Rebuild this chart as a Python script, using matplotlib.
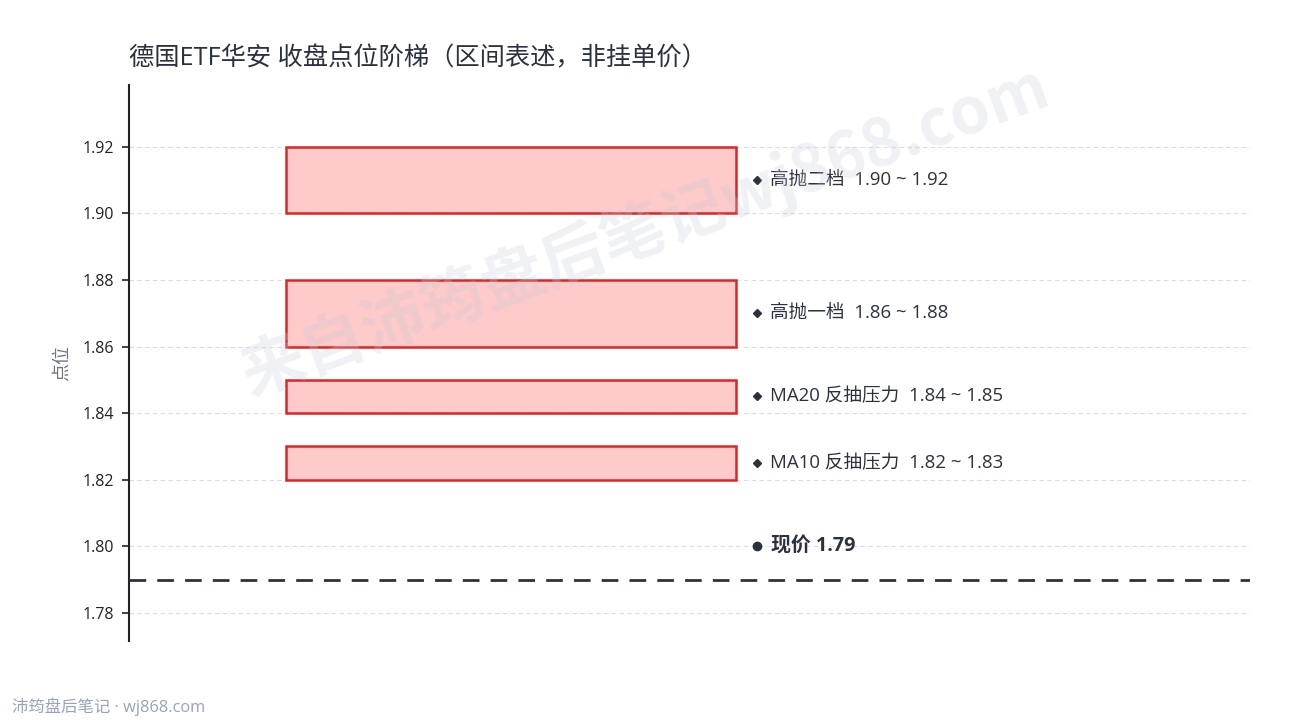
import matplotlib
matplotlib.use("Agg")
import matplotlib.pyplot as plt
from matplotlib.patches import Rectangle

plt.rcParams['font.family'] = ['Open Sans', 'Noto Sans CJK SC', 'DejaVu Sans']

# ---- data ----
title = "德国ETF华安 收盘点位阶梯（区间表述，非挂单价）"
level_names = ["高抛二档", "高抛一档", "MA20 反抽压力", "MA10 反抽压力"]
level_lows = [1.90, 1.86, 1.84, 1.82]
level_highs = [1.92, 1.88, 1.85, 1.83]
current_price = 1.79
y_ticks = [1.78, 1.80, 1.82, 1.84, 1.86, 1.88, 1.90, 1.92]
y_label = "点位"
footer = "沛筠盘后笔记 · wj868.com"
watermark = "来自沛筠盘后笔记wj868.com"

# ---- styles ----
DARK = "#2b3140"
BOX_FACE = "#fecaca"
BOX_EDGE = "#dc2626"
CJK = ['Noto Sans CJK SC', 'DejaVu Sans']

fig = plt.figure(figsize=(12.9, 7.2), dpi=100)
ax = fig.add_axes([0.1, 0.110, 0.869, 0.772])

ax.set_xlim(0, 1)
ax.set_ylim(1.7716, 1.9386)

box_x0, box_x1 = 0.14, 0.5415
for name, lo, hi in zip(level_names, level_lows, level_highs):
    ax.add_patch(Rectangle((box_x0, lo), box_x1 - box_x0, hi - lo,
                           facecolor=BOX_FACE, edgecolor=BOX_EDGE, lw=1.8, zorder=3))
    ymid = (lo + hi) / 2
    ax.plot([0.5605], [ymid], marker='D', markersize=4, color=DARK, zorder=4, clip_on=False)
    ax.text(0.5715, ymid, f"{name}  {lo:.2f} ~ {hi:.2f}", fontsize=13.4, color=DARK,
            va='center', ha='left', zorder=4)

# current price line
ax.axhline(current_price, color=DARK, lw=2, ls=(0, (6, 4)), zorder=4)
ax.plot([0.5605], [current_price + 0.01], marker='o', markersize=6, color=DARK, zorder=4)
ax.text(0.5725, current_price + 0.0005 + 0.01 - 0.0005, f"现价 {current_price:.2f}", fontsize=14.3,
        fontweight='bold', color=DARK, va='center', ha='left', zorder=4)

ax.set_yticks(y_ticks)
ax.set_yticklabels([f"{t:.2f}" for t in y_ticks], fontsize=11.5, color="#222222")
ax.set_xticks([])
ax.yaxis.grid(True, color="#dddddd", lw=0.8, ls=(0, (4, 3)))
ax.set_axisbelow(True)
for s in ["top", "right", "bottom"]:
    ax.spines[s].set_visible(False)
ax.spines["left"].set_color("#222222")
ax.spines["left"].set_linewidth(1.5)
ax.tick_params(axis='y', length=5, width=1.2, color="#222222", pad=6)
ax.set_ylabel(y_label, fontsize=13, color="#6b7280", labelpad=8, family=CJK)

fig.text(0.1, 0.918, title, fontsize=18.2, color=DARK, ha='left', va='center')
fig.text(0.009, 0.018, footer, fontsize=11.8, color="#97a3bd", ha='left', va='center')

fig.text(0.50, 0.68, watermark, fontsize=46, fontweight='bold', color="#c8ccd8",
         alpha=0.28, rotation=20, ha='center', va='center', zorder=10, family=CJK)

fig.savefig("out.png", dpi=100, facecolor="white")
